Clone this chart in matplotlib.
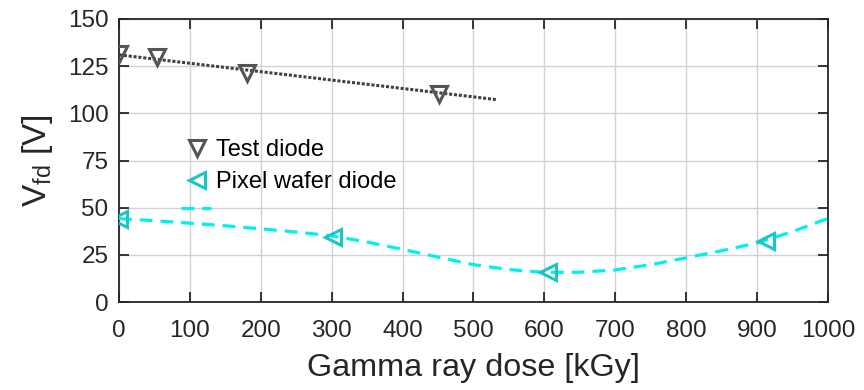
import matplotlib
matplotlib.use("Agg")
import matplotlib.pyplot as plt
import numpy as np

plt.rcParams['font.family'] = ['Liberation Sans', 'DejaVu Sans']
plt.rcParams['mathtext.fontset'] = 'custom'
plt.rcParams['mathtext.rm'] = 'Liberation Sans'

# Test diode data
test_dose = [0, 54, 180, 451]
test_vfd = [131.5, 129.8, 121.4, 110.3]
# Linear fit line for test diode (end points)
test_fit_dose = [0, 534]
test_fit_vfd = [131.0, 107.2]

# Pixel wafer diode data
pix_dose = [0, 302, 605, 912]
pix_vfd = [43.8, 34.6, 15.8, 32.2]
# Fit curve for pixel wafer diode
pix_fit_dose = [0, 50, 100, 150, 200, 250, 300, 350, 400, 450, 500, 550,
                600, 650, 700, 750, 800, 850, 900, 950, 1000]
pix_fit_vfd = [44.2, 43.1, 41.8, 40.4, 38.8, 37.1, 35.1, 31.8, 27.9, 23.8, 19.8, 17.2,
               15.7, 15.8, 17.0, 19.8, 23.4, 27.2, 31.3, 37.3, 44.3]
# Short stray dashed segment
stray_dose = [88, 130]
stray_vfd = [50, 50]

xticks = [0, 100, 200, 300, 400, 500, 600, 700, 800, 900, 1000]
yticks = [0, 25, 50, 75, 100, 125, 150]

fig = plt.figure(figsize=(8.64, 3.9), dpi=100)
ax = fig.add_axes([0.1377, 0.2256, 0.8206, 0.7257])

cyan = '#00f0f0'
teal = '#1cc4c4'
gray = '#555555'

ax.plot(test_fit_dose, test_fit_vfd, linestyle=(0, (1, 0.6)), color='#404040', lw=2.2, zorder=3)
ax.plot(pix_fit_dose, pix_fit_vfd, linestyle=(0, (4, 2.5)), color=cyan, lw=2.3, zorder=3)
ax.plot(stray_dose, stray_vfd, linestyle=(0, (4, 2.5)), color=cyan, lw=2.3, zorder=3)

h1, = ax.plot(test_dose, test_vfd, 'v', ms=11, mfc='none', mec=gray, mew=2.2, zorder=4,
              label='Test diode')
h2, = ax.plot(pix_dose, pix_vfd, '<', ms=11, mfc='none', mec=teal, mew=2.2, zorder=4,
              label='Pixel wafer diode')

ax.set_xlim(0, 1000)
ax.set_ylim(0, 150)
ax.set_xticks(xticks)
ax.set_yticks(yticks)
ax.grid(True, color='#d2d2d2', lw=1.0)
ax.set_axisbelow(True)
ax.tick_params(direction='in', length=7, width=1.3, colors='#262626', labelsize=17.5,
               top=True, right=True)
ax.tick_params(axis='x', pad=13)
ax.tick_params(axis='y', pad=7.5)
for s in ax.spines.values():
    s.set_color('#262626')
    s.set_linewidth(1.3)

ax.set_xlabel('Gamma ray dose [kGy]', fontsize=23.3, color='#262626', labelpad=8)
ax.set_ylabel(r'V$_{\mathrm{fd}}$ [V]', fontsize=24, color='#262626', labelpad=9)

leg = ax.legend(handles=[h1, h2], loc='upper left', bbox_to_anchor=(0.08, 0.61),
                frameon=False, fontsize=17, handlelength=1.0, handletextpad=0.3,
                labelspacing=0.45, borderaxespad=0)

fig.savefig('out.png', dpi=100)
